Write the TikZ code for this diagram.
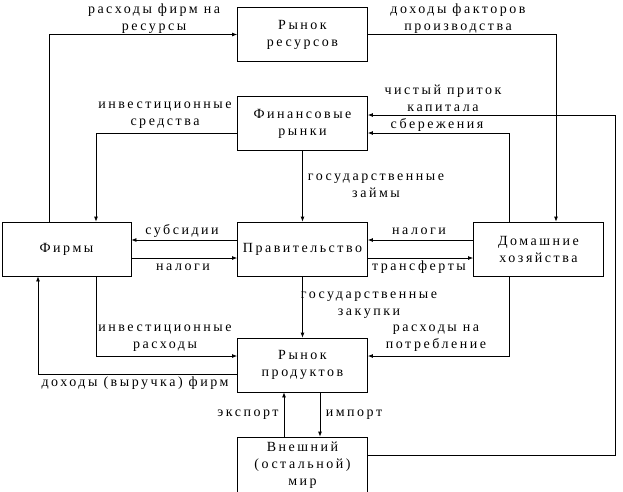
\documentclass[tikz,border=0pt]{standalone}
\usepackage{fontspec}
\setmainfont{Liberation Serif}[LetterSpace=18]
\usetikzlibrary{arrows.meta, positioning, calc}

\tikzset{
  block/.style={rectangle, draw, minimum width=130pt, minimum height=54pt, inner sep=0pt, align=center, font=\fontsize{14}{17}\selectfont},
  lbl/.style={align=center, inner sep=0pt, font=\fontsize{14}{17}\selectfont},
  flow/.style={-{Latex[length=5pt,width=4pt]}}
}

\begin{document}
\begin{tikzpicture}[x=1pt, y=1pt, line width=0.8pt]
    \useasboundingbox (0,0) rectangle (623,-491);
    % Nodes
    \node (Resources) [block] at (302.5,-34.5) {Рынок\\ресурсов};
    \node (Finance) [block] at (302.5,-123.5) {Финансовые\\рынки};
    \node (Firms) [block, minimum width=129pt] at (66.5,-249) {Фирмы};
    \node (Gov) [block] at (302.5,-249) {Правительство};
    \node (House) [block] at (538.5,-249) {Домашние\\хозяйства};
    \node (Products) [block] at (302.5,-365) {Рынок\\продуктов};
    \node (World) [block, minimum height=56pt] at (302.5,-465) {Внешний\\(остальной)\\мир};
    \coordinate (capital) at (615,-115);

    % Labels
    \node (lResExp) [lbl] at (154,-18.5) {расходы фирм на\\ресурсы};
    \node (lFactInc) [lbl] at (458,-18.5) {доходы факторов\\производства};
    \node (lCapital) [lbl] at (443,-98.5) {чистый приток\\капитала};
    \node (lInvFunds) [lbl] at (165,-115.5) {инвестиционные\\средства};
    \node (lSavings) [lbl] at (437,-125) {сбережения};
    \node (lLoans) [lbl] at (376,-186) {государственные\\займы};
    \node (lSubsidy) [lbl] at (182,-231) {субсидии};
    \node (lTaxFirms) [lbl] at (183,-267) {налоги};
    \node (lTaxHouse) [lbl] at (419,-231) {налоги};
    \node (lTransfer) [lbl] at (419,-267) {трансферты};
    \node (lPurchase) [lbl] at (369,-305) {государственные\\закупки};
    \node (lInvExp) [lbl] at (165,-338.5) {инвестиционные\\расходы};
    \node (lConsume) [lbl] at (436,-338.5) {расходы на\\потребление};
    \node (lRevenue) [lbl] at (135,-383) {доходы (выручка) фирм};
    \node (lExport) [lbl] at (248,-415) {экспорт};
    \node (lImport) [lbl] at (354,-415) {импорт};

    % Edges
    \draw[flow] ([xshift=-17.5pt]Firms.north) |- (Resources.west);
    \draw[flow] (Resources.east) -| ([xshift=17.5pt]House.north);
    \draw[flow] ([yshift=-9.5pt]Finance.west) -| ([xshift=29.5pt]Firms.north);
    \draw[flow] (Finance.south) -- (Gov.north);
    \draw[flow] ([xshift=-29.5pt]House.north) |- ([yshift=-9.5pt]Finance.east);
    \draw[flow] ([yshift=10pt]World.east) -| (capital) -- ([yshift=8.5pt]Finance.east);
    \draw[flow] ([yshift=9pt]Gov.west) -- ([yshift=9pt]Firms.east);
    \draw[flow] ([yshift=-9pt]Firms.east) -- ([yshift=-9pt]Gov.west);
    \draw[flow] ([yshift=9pt]House.west) -- ([yshift=9pt]Gov.east);
    \draw[flow] ([yshift=-9pt]Gov.east) -- ([yshift=-9pt]House.west);
    \draw[flow] (Gov.south) -- (Products.north);
    \draw[flow] ([xshift=29.5pt]Firms.south) |- ([yshift=9pt]Products.west);
    \draw[flow] ([xshift=-29.5pt]House.south) |- ([yshift=9pt]Products.east);
    \draw[flow] ([yshift=-9pt]Products.west) -| ([xshift=-28.5pt]Firms.south);
    \draw[flow] ([xshift=-18.5pt]World.north) -- ([xshift=-18.5pt]Products.south);
    \draw[flow] ([xshift=17.5pt]Products.south) -- ([xshift=17.5pt]World.north);
\end{tikzpicture}
\end{document}
